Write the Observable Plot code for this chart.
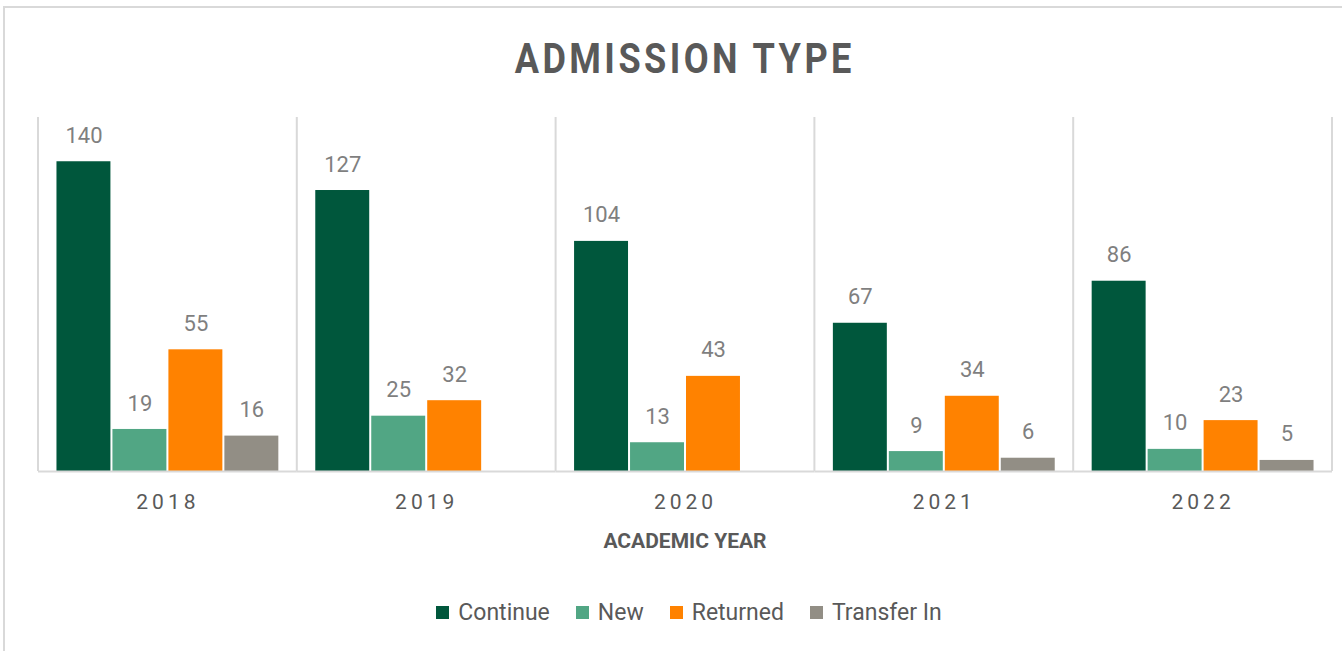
<!DOCTYPE html>
<html>
<head>
<meta charset="utf-8">
<script src="https://cdn.jsdelivr.net/npm/d3@7"></script>
<script src="https://cdn.jsdelivr.net/npm/@observablehq/plot@0.6"></script>
<style>
  html, body { margin: 0; padding: 0; background: #fff; }
  body { width: 1342px; height: 651px; position: relative; overflow: hidden; font-family: Roboto, "Noto Sans", sans-serif; }
  #border { position: absolute; left: 3px; top: 6px; width: 1360px; height: 700px; border-top: 2px solid #d9d9d9; border-left: 2px solid #d9d9d9; }
  #title { position: absolute; left: 38px; width: 1294px; top: 34px; text-align: center; }
  #title span { display: inline-block; font-size: 42px; font-weight: 700; color: #595959; letter-spacing: 4px; transform: scaleX(0.86); }
  #chart { position: absolute; left: 0; top: 100px; }
  #xtitle { position: absolute; left: 38px; width: 1294px; top: 529px; text-align: center; font-size: 21px; font-weight: 700; color: #595959; }
  #legend { position: absolute; left: 42px; width: 1294px; top: 599px; display: flex; justify-content: center; gap: 26px; font-size: 23px; color: #595959; }
  #legend .item { display: flex; align-items: center; gap: 9px; }
  #legend .sw { width: 13px; height: 13px; display: inline-block; }
</style>
</head>
<body>
<div id="border"></div>
<div id="title"><span>ADMISSION TYPE</span></div>
<div id="chart"></div>
<div id="xtitle"><span>ACADEMIC YEAR</span></div>
<div id="legend"></div>
<script>
const years = ["2018", "2019", "2020", "2021", "2022"];
const types = ["Continue", "New", "Returned", "Transfer In"];
const colors = ["#00573c", "#51a684", "#ff8200", "#928e85"];
const continueVals = [140, 127, 104, 67, 86];
const newVals = [19, 25, 13, 9, 10];
const returnedVals = [55, 32, 43, 34, 23];
const transferVals = [16, null, null, 6, 5];

const series = [continueVals, newVals, returnedVals, transferVals];
const data = [];
years.forEach((year, i) => {
  types.forEach((type, j) => {
    const v = series[j][i];
    if (v != null) data.push({year, type, value: v});
  });
});

const chart = Plot.plot({
  width: 1342,
  height: 460,
  marginTop: 17,
  marginBottom: 89,
  marginLeft: 38,
  marginRight: 10,
  style: {fontFamily: "Roboto, 'Noto Sans', sans-serif", background: "transparent", overflow: "visible"},
  fx: {domain: years, padding: 0, round: false, label: null, axis: "bottom", tickSize: 0, tickPadding: 23, fontSize: 21},
  x: {domain: types, axis: null, round: false, paddingInner: 0.036, paddingOuter: 0.33},
  y: {domain: [0, 160], axis: null},
  color: {domain: types, range: colors},
  marks: [
    Plot.barY(data, {fx: "year", x: "type", y: "value", fill: "type"}),
    Plot.text(data, {fx: "year", x: "type", y: "value", text: "value", dy: -26, fill: "#7f7f7f", fontSize: 22}),
    Plot.ruleY([0], {stroke: "#d9d9d9", strokeWidth: 2})
  ]
});
document.getElementById("chart").appendChild(chart);

// fx axis tick label styling
d3.select(chart).selectAll('[aria-label="fx-axis tick label"] text, [aria-label="fx-axis"] text')
  .attr("fill", "#595959").style("font-size", "21px").style("letter-spacing", "4px");

// category dividers from the fx scale
const fx = chart.scale("fx");
const y = chart.scale("y");
const edges = years.map(yr => fx.apply(yr));
edges.push(fx.apply(years[years.length - 1]) + fx.bandwidth);
const y0 = y.apply(0), y1 = y.apply(160);
d3.select(chart).insert("g", ":first-child")
  .attr("stroke", "#d9d9d9").attr("stroke-width", 2)
  .selectAll("line").data(edges).join("line")
  .attr("x1", d => d).attr("x2", d => d)
  .attr("y1", y1).attr("y2", y0);

// legend
const legend = d3.select("#legend");
types.forEach((t, i) => {
  const item = legend.append("div").attr("class", "item");
  item.append("span").attr("class", "sw").style("background", colors[i]);
  item.append("span").text(t);
});
</script>
</body>
</html>
